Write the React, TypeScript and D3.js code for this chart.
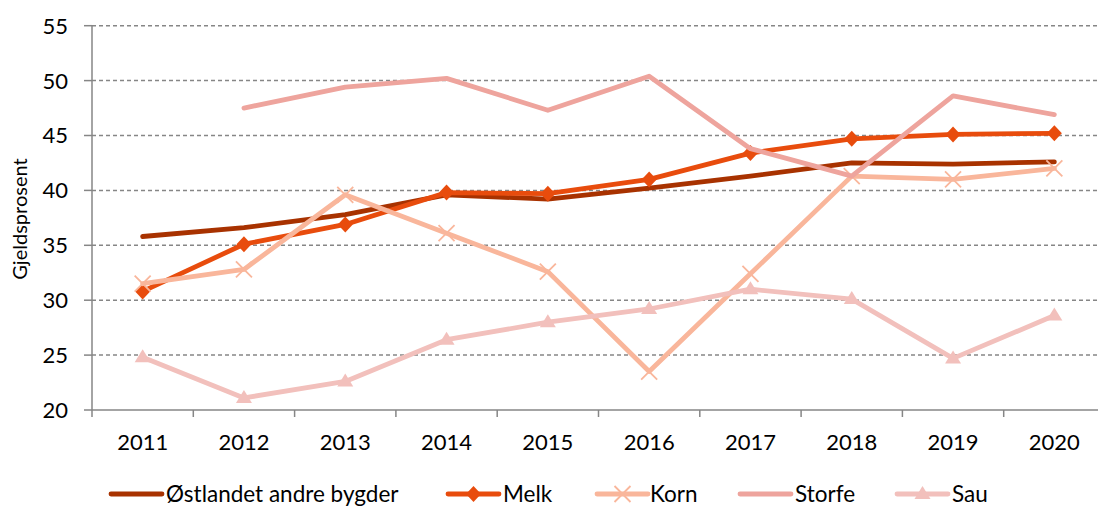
import React from "react";
import * as d3 from "d3";

const years = ["2011", "2012", "2013", "2014", "2015", "2016", "2017", "2018", "2019", "2020"];
const yTicks = [20, 25, 30, 35, 40, 45, 50, 55];

const ostlandet: (number | null)[] = [35.8, 36.6, 37.8, 39.6, 39.2, 40.2, 41.3, 42.5, 42.4, 42.6];
const melk: (number | null)[] = [30.8, 35.1, 36.9, 39.8, 39.7, 41.0, 43.4, 44.7, 45.1, 45.2];
const korn: (number | null)[] = [31.5, 32.8, 39.6, 36.1, 32.6, 23.5, 32.4, 41.3, 41.0, 42.0];
const storfe: (number | null)[] = [null, 47.5, 49.4, 50.2, 47.3, 50.4, 43.8, 41.3, 48.6, 46.9];
const sau: (number | null)[] = [24.8, 21.1, 22.6, 26.4, 28.0, 29.2, 31.0, 30.1, 24.7, 28.6];

const seriesNames = ["Østlandet andre bygder", "Melk", "Korn", "Storfe", "Sau"];
const seriesValues = [ostlandet, melk, korn, storfe, sau];
const seriesColors = ["#A83200", "#E84C0D", "#F9B69B", "#EEA49D", "#F2C0BC"];
const seriesMarkers = ["none", "diamond", "x", "none", "triangle"];

const FONT = "Lato, 'Open Sans', sans-serif";

function Marker({ kind, cx, cy, color }: { kind: string; cx: number; cy: number; color: string }) {
  if (kind === "diamond") {
    return <path d={`M${cx},${cy - 8}L${cx + 7.5},${cy}L${cx},${cy + 8}L${cx - 7.5},${cy}Z`} fill={color} />;
  }
  if (kind === "x") {
    const r = 8;
    return (
      <path
        d={`M${cx - r},${cy - r}L${cx + r},${cy + r}M${cx - r},${cy + r}L${cx + r},${cy - r}`}
        stroke={color}
        strokeWidth={1.8}
        fill="none"
      />
    );
  }
  if (kind === "triangle") {
    return <path d={`M${cx},${cy - 8}L${cx + 8},${cy + 5}L${cx - 8},${cy + 5}Z`} fill={color} />;
  }
  return null;
}

export default function App() {
  const W = 1098;
  const H = 510;
  const left = 92;
  const right = 1105;
  const top = 25.7;
  const bottom = 410;

  const x = d3.scaleBand<string>().domain(years).range([left, right]).padding(0);
  const cx = (yr: string) => (x(yr) as number) + x.bandwidth() / 2;
  const y = d3.scaleLinear().domain([20, 55]).range([bottom, top]);

  const line = d3
    .line<number | null>()
    .defined((d) => d !== null)
    .x((_, i) => cx(years[i]))
    .y((d) => y(d as number));

  const boundaries = years.map((yr) => x(yr) as number);

  const legendItems = [
    { lx: 111, tx: 166 },
    { lx: 448, tx: 503 },
    { lx: 597, tx: 650 },
    { lx: 740, tx: 795 },
    { lx: 897, tx: 952 },
  ];
  const legendY = 494;

  return (
    <svg width={W} height={H} style={{ position: "absolute", left: 0, top: 0, background: "#fff" }}>
      <rect x={0} y={0} width={W} height={H} fill="#fff" />
      {yTicks.map((t) =>
        t === 20 ? null : (
          <line
            key={"g" + t}
            x1={left}
            x2={W}
            y1={y(t)}
            y2={y(t)}
            stroke="#868686"
            strokeWidth={1.5}
            strokeDasharray="4,3"
          />
        )
      )}
      {yTicks.map((t) => (
        <line key={"yt" + t} x1={84} x2={left} y1={y(t)} y2={y(t)} stroke="#868686" strokeWidth={1.5} />
      ))}
      <line x1={left} x2={left} y1={top} y2={bottom} stroke="#868686" strokeWidth={1.5} />
      <line x1={left} x2={W} y1={bottom} y2={bottom} stroke="#868686" strokeWidth={1.5} />
      {boundaries.map((b, i) => (
        <line key={"xt" + i} x1={b} x2={b} y1={bottom} y2={bottom + 7} stroke="#868686" strokeWidth={1.5} />
      ))}
      {yTicks.map((t) => (
        <text
          key={"yl" + t}
          x={68}
          y={y(t)}
          dy="0.36em"
          textAnchor="end"
          fontFamily={FONT}
          fontSize={22}
          fill="#000"
        >
          {t}
        </text>
      ))}
      {years.map((yr) => (
        <text key={"xl" + yr} x={cx(yr)} y={450} textAnchor="middle" fontFamily={FONT} fontSize={22} fill="#000">
          {yr}
        </text>
      ))}
      <text
        transform={`translate(27,${219}) rotate(-90)`}
        textAnchor="middle"
        fontFamily={FONT}
        fontSize={20}
        fill="#000"
      >
        Gjeldsprosent
      </text>
      {seriesValues.map((vals, si) => (
        <g key={"s" + si}>
          <path
            d={line(vals) as string}
            fill="none"
            stroke={seriesColors[si]}
            strokeWidth={4.8}
            strokeLinecap="round"
            strokeLinejoin="round"
          />
          {vals.map((v, i) =>
            v === null ? null : (
              <Marker key={i} kind={seriesMarkers[si]} cx={cx(years[i])} cy={y(v)} color={seriesColors[si]} />
            )
          )}
        </g>
      ))}
      {legendItems.map((it, si) => (
        <g key={"l" + si}>
          <line
            x1={it.lx}
            x2={it.lx + 51}
            y1={legendY}
            y2={legendY}
            stroke={seriesColors[si]}
            strokeWidth={4.8}
            strokeLinecap="round"
          />
          <Marker kind={seriesMarkers[si]} cx={it.lx + 25.5} cy={legendY} color={seriesColors[si]} />
          <text x={it.tx} y={legendY} dy="0.36em" fontFamily={FONT} fontSize={22.5} fill="#000">
            {seriesNames[si]}
          </text>
        </g>
      ))}
    </svg>
  );
}
